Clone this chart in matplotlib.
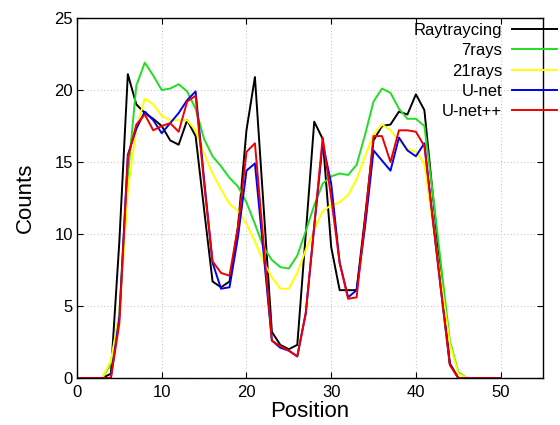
import numpy as np
import matplotlib
matplotlib.use("Agg")
from matplotlib import pyplot as plt

plt.rcParams['font.family'] = ['Liberation Sans', 'DejaVu Sans']

position = np.arange(0, 51)

raytracing = [0, 0, 0, 0, 0.3, 9.5, 21.1, 19.0, 18.4, 18.0,
              17.5, 16.5, 16.2, 17.9, 16.8, 11.7, 6.7, 6.3, 6.7, 10.5,
              17.2, 20.9, 12.1, 3.2, 2.3, 2.0, 2.3, 10.0, 17.8, 16.6,
              9.1, 6.1, 6.1, 6.1, 11.2, 16.5, 17.5, 17.6, 18.5, 18.3,
              19.7, 18.6, 12.7, 6.9, 1.0, 0, 0, 0, 0, 0, 0]
rays7 = [0, 0, 0, 0, 1.0, 4.5, 14.0, 20.3, 21.9, 21.0,
         20.0, 20.1, 20.4, 19.9, 18.7, 16.6, 15.4, 14.7, 13.9, 13.3,
         12.2, 10.7, 9.1, 8.2, 7.7, 7.6, 8.5, 10.2, 12.0, 13.5,
         14.0, 14.2, 14.1, 14.8, 16.9, 19.2, 20.1, 19.8, 18.7, 18.0,
         18.0, 17.5, 12.8, 7.7, 2.6, 0.4, 0, 0, 0, 0, 0]
rays21 = [0, 0, 0, 0, 1.2, 4.5, 13.0, 17.3, 19.4, 19.0,
          18.2, 17.9, 17.9, 17.9, 17.2, 15.6, 14.2, 13.1, 12.1, 11.6,
          10.7, 9.5, 8.1, 7.0, 6.2, 6.2, 7.3, 8.9, 10.3, 11.6,
          12.0, 12.2, 12.7, 13.8, 15.4, 16.9, 17.6, 17.2, 16.5, 15.9,
          15.7, 14.9, 10.7, 6.6, 2.4, 0.3, 0, 0, 0, 0, 0]
unet = [0, 0, 0, 0, 0, 4.2, 15.5, 17.3, 18.5, 17.9,
        17.0, 17.7, 18.4, 19.3, 19.9, 13.8, 8.0, 6.2, 6.3, 9.8,
        14.4, 14.9, 8.8, 2.6, 2.1, 1.9, 1.5, 4.5, 10.5, 16.3,
        13.5, 8.0, 5.6, 6.1, 10.5, 15.8, 15.1, 14.4, 16.7, 15.8,
        15.4, 16.3, 11.0, 5.9, 1.0, 0, 0, 0, 0, 0, 0]
unetpp = [0, 0, 0, 0, 0, 3.8, 15.3, 17.6, 18.3, 17.2,
          17.5, 17.7, 17.1, 19.2, 19.6, 13.5, 8.1, 7.3, 7.1, 10.5,
          15.7, 16.3, 9.5, 2.6, 2.2, 1.9, 1.5, 4.5, 10.6, 16.7,
          12.5, 8.0, 5.5, 5.6, 11.0, 16.8, 16.8, 15.0, 17.2, 17.2,
          17.1, 16.1, 11.0, 5.9, 0.9, 0, 0, 0, 0, 0, 0]

series = [("Raytraycing", raytracing, "#000000"),
          ("7rays", rays7, "#22dd22"),
          ("21rays", rays21, "#ffff00"),
          ("U-net", unet, "#0000ee"),
          ("U-net++", unetpp, "#ee0000")]

fig = plt.figure(figsize=(5.6, 4.25), dpi=100)
ax = fig.add_axes([77 / 560, 1 - 378 / 425, (543 - 77) / 560, (378 - 18) / 425])

for label, values, color in series:
    ax.plot(position, values, color=color, lw=1.4, label=label)

ax.set_xlim(0, 55)
ax.set_ylim(0, 25)
ax.set_xticks(np.arange(0, 51, 10))
ax.set_yticks(np.arange(0, 26, 5))
ax.grid(True, color="#c8c8c8", linestyle=(0, (1, 2)), lw=0.8)
ax.tick_params(direction="in", length=4, width=0.8, labelsize=12,
               top=True, right=True)
ax.tick_params(axis="x", pad=5)
ax.tick_params(axis="y", pad=3)
for spine in ax.spines.values():
    spine.set_linewidth(1.0)

ax.set_xlabel("Position", fontsize=16, labelpad=1)
ax.set_ylabel("Counts", fontsize=16, labelpad=13)

# gnuplot-style key: labels right aligned, line samples after them
leg = ax.legend(loc="upper right", bbox_to_anchor=(557 / 560, 1 - 23 / 425),
                bbox_transform=fig.transFigure, frameon=False, markerfirst=False,
                fontsize=12, handlelength=2.7, handletextpad=0.6, labelspacing=0.32,
                borderpad=0, borderaxespad=0)
leg.set_clip_on(False)

fig.savefig("out.png", dpi=100)
